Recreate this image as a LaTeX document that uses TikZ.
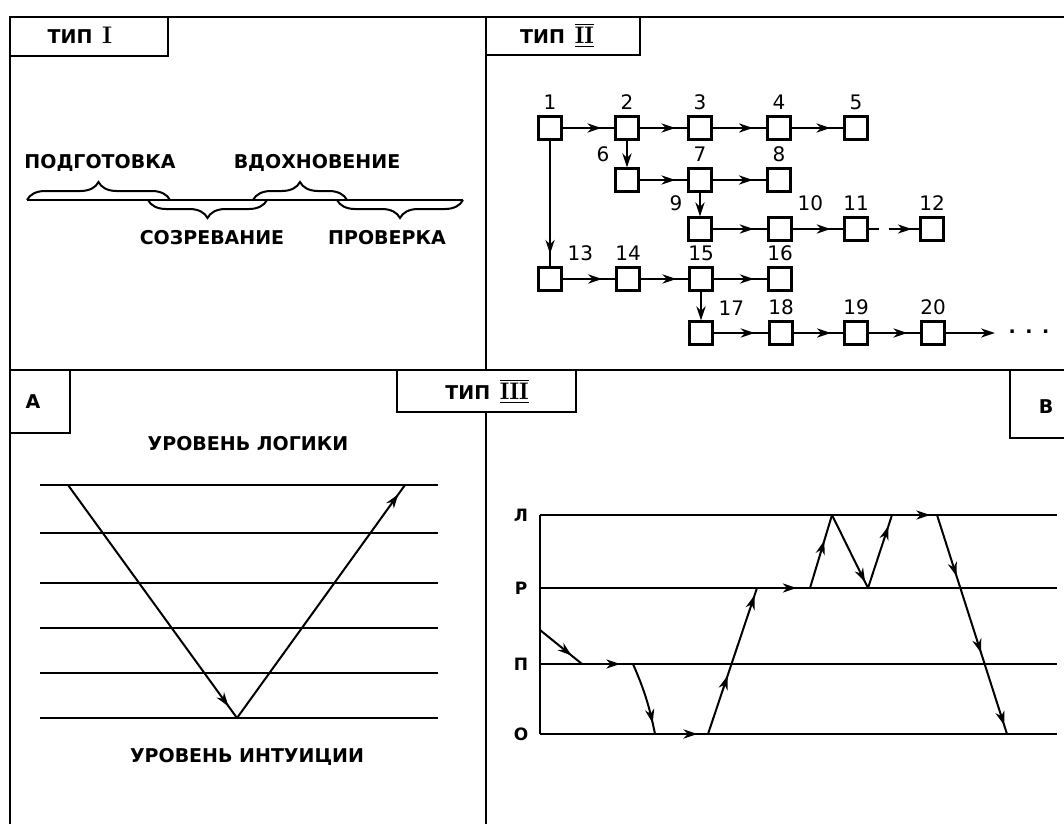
\documentclass[tikz,border=0pt]{standalone}
\usepackage{fontspec}
\newfontfamily\labelfont{DejaVu Sans}
\usetikzlibrary{arrows.meta,decorations.pathreplacing,decorations.markings}
\newcommand\typenum[1]{{\fontsize{12}{12}\selectfont$\overline{\underline{\mathbf{#1}}}$}}

\begin{document}
\begin{tikzpicture}[x=0.5pt, y=-0.5pt, line width=1pt,
  >={Stealth[length=7pt,width=4.6pt,inset=2.2pt]},
  frm/.style={line width=1.4pt},
  ttl/.style={font=\labelfont\bfseries\fontsize{9.5}{11}\selectfont, inner sep=1pt},
  phase/.style={font=\labelfont\bfseries\fontsize{9.5}{11}\selectfont, inner sep=1pt},
  lvl/.style={font=\labelfont\bfseries\fontsize{8.5}{10}\selectfont, inner sep=1pt},
  num/.style={font=\labelfont\fontsize{10}{11}\selectfont, inner sep=1pt},
  blk/.style={draw, line width=1.1pt, minimum size=11.5pt, inner sep=0pt},
  every label/.style={num}, label distance=1.5pt,
  brc/.style={decorate, decoration={brace, amplitude=9pt}},
  arr/.style={postaction={decorate}, decoration={markings, mark=at position #1 with {\arrow{>}}}},
  arr/.default=0.75,
  arrtwo/.style 2 args={postaction={decorate}, decoration={markings,
    mark=at position #1 with {\arrow{>}}, mark=at position #2 with {\arrow{>}}}},
  arrthree/.style={postaction={decorate}, decoration={markings,
    mark=at position 0.28 with {\arrow{>}}, mark=at position 0.63 with {\arrow{>}},
    mark=at position 0.96 with {\arrow{>}}}},
]
  \useasboundingbox (0,0) rectangle (1064,824);

  % frame
  \draw[frm] (10,824) -- (10,17) -- (1064,17);
  \draw[frm] (10,370) -- (1064,370);
  \draw[frm] (486,17) -- (486,824);
  \draw[frm] (10,56) -- (168,56) -- (168,17);
  \draw[frm] (486,55) -- (640,55) -- (640,17);
  \draw[frm] (10,433) -- (70,433) -- (70,370);
  \draw[frm, fill=white] (397,370) rectangle (576,412);
  \draw[frm] (1064,438) -- (1010,438) -- (1010,370);

  \node[ttl] (t1) at (80,35) {ТИП\, {\rmfamily\fontsize{12}{12}\selectfont I}};
  \node[ttl] (t2) at (557,35) {ТИП\, \typenum{II}};
  \node[ttl] (t3) at (487,391) {ТИП\, \typenum{III}};
  \node[ttl] (ta) at (33,402) {А};
  \node[ttl] (tb) at (1046,407) {В};

  % type I
  \draw (27,200) -- (463,200);
  \draw[brc] (27,200) -- (170,200);
  \draw[brc] (253,200) -- (347,200);
  \draw[brc] (267,200) -- (148,200);
  \draw[brc] (463,200) -- (337,200);
  \node[phase] (prep) at (100,163) {ПОДГОТОВКА};
  \node[phase] (insp) at (317,163) {ВДОХНОВЕНИЕ};
  \node[phase] (incub) at (212,238) {СОЗРЕВАНИЕ};
  \node[phase] (verif) at (387,238) {ПРОВЕРКА};

  % type II
  \node[blk, label=above:1] (b1) at (550,128) {};
  \node[blk, label=above:2] (b2) at (627,128) {};
  \node[blk, label=above:3] (b3) at (700,128) {};
  \node[blk, label=above:4] (b4) at (779,128) {};
  \node[blk, label=above:5] (b5) at (856,128) {};
  \node[blk, label=above left:6] (b6) at (627,180) {};
  \node[blk, label=above:7] (b7) at (700,180) {};
  \node[blk, label=above:8] (b8) at (779,180) {};
  \node[blk, label=above left:9] (b9) at (700,229) {};
  \node[blk, label=above right:10] (b10) at (780,229) {};
  \node[blk, label=above:11] (b11) at (856,229) {};
  \node[blk, label=above:12] (b12) at (932,229) {};
  \node[blk, label=above right:13] (b13) at (550,279) {};
  \node[blk, label=above:14] (b14) at (628,279) {};
  \node[blk, label=above:15] (b15) at (701,279) {};
  \node[blk, label=above:16] (b16) at (780,279) {};
  \node[blk, label=above right:17] (b17) at (701,333) {};
  \node[blk, label=above:18] (b18) at (781,333) {};
  \node[blk, label=above:19] (b19) at (856,333) {};
  \node[blk, label=above:20] (b20) at (933,333) {};
  \coordinate (e20) at (995,333);
  \node[ttl] (dots) at (1029,332) {.\,\,\,.\,\,\,.};

  \draw[arr] (b1) -- (b2);
  \draw[arr] (b2) -- (b3);
  \draw[arr] (b3) -- (b4);
  \draw[arr] (b4) -- (b5);
  \draw[->] (b2) -- (b6);
  \draw[arr] (b6) -- (b7);
  \draw[arr] (b7) -- (b8);
  \draw[->] (b7) -- (b9);
  \draw[arr] (b9) -- (b10);
  \draw[arr] (b10) -- (b11);
  \draw[arr=0.85, dash pattern=on 5pt off 5pt on 30pt] (b11) -- (b12);
  \draw[arr=0.9] (b1) -- (b13);
  \draw[arr] (b13) -- (b14);
  \draw[arr] (b14) -- (b15);
  \draw[arr] (b15) -- (b16);
  \draw[->] (b15) -- (b17);
  \draw[arr] (b17) -- (b18);
  \draw[arr] (b18) -- (b19);
  \draw[arr] (b19) -- (b20);
  \draw[->] (b20) -- (e20);

  % type III, A
  \draw (40,485) -- (438,485);
  \draw (40,533) -- (438,533);
  \draw (40,583) -- (438,583);
  \draw (40,628) -- (438,628);
  \draw (40,673) -- (438,673);
  \draw (40,718) -- (438,718);
  \coordinate (v0) at (68,485);
  \coordinate (v1) at (237,718);
  \coordinate (v2) at (405,485);
  \draw[arr=0.95] (v0) -- (v1);
  \draw[arr=0.96] (v1) -- (v2);
  \node[phase] (logic) at (248,444) {УРОВЕНЬ ЛОГИКИ};
  \node[phase] (intu) at (247,757) {УРОВЕНЬ ИНТУИЦИИ};

  % type III, B
  \draw (540,515) -- (1057,515);
  \draw (540,588) -- (1057,588);
  \draw (540,664) -- (1057,664);
  \draw (540,734) -- (1057,734);
  \draw (540,515) -- (540,734);
  \node[lvl] (lL) at (521,515) {Л};
  \node[lvl] (lR) at (521,588) {Р};
  \node[lvl] (lP) at (521,664) {П};
  \node[lvl] (lO) at (521,734) {О};
  \coordinate (q0) at (540,630);
  \coordinate (q1) at (582,664);
  \coordinate (q2) at (633,664);
  \coordinate (q3) at (655,734);
  \coordinate (q4) at (708,734);
  \coordinate (q5) at (757,588);
  \coordinate (q6) at (810,588);
  \coordinate (q7) at (832,515);
  \coordinate (q8) at (868,588);
  \coordinate (q9) at (892,515);
  \coordinate (q10) at (937,515);
  \coordinate (q11) at (1007,734);
  \draw[arr] (q0) -- (q1);
  \draw[arr] (q1) -- (q2);
  \draw[arr=0.85] (q2) to[bend left=6] (q3);
  \draw[arr=0.8] (q3) -- (q4);
  \draw[arrtwo={0.4}{0.95}] (q4) -- (q5);
  \draw[arr=0.75] (q5) -- (q6);
  \draw[arr=0.65] (q6) -- (q7);
  \draw[arr=0.92] (q7) -- (q8);
  \draw[arr=0.85] (q8) -- (q9);
  \draw[arr=0.85] (q9) -- (q10);
  \draw[arrthree] (q10) -- (q11);
\end{tikzpicture}
\end{document}
